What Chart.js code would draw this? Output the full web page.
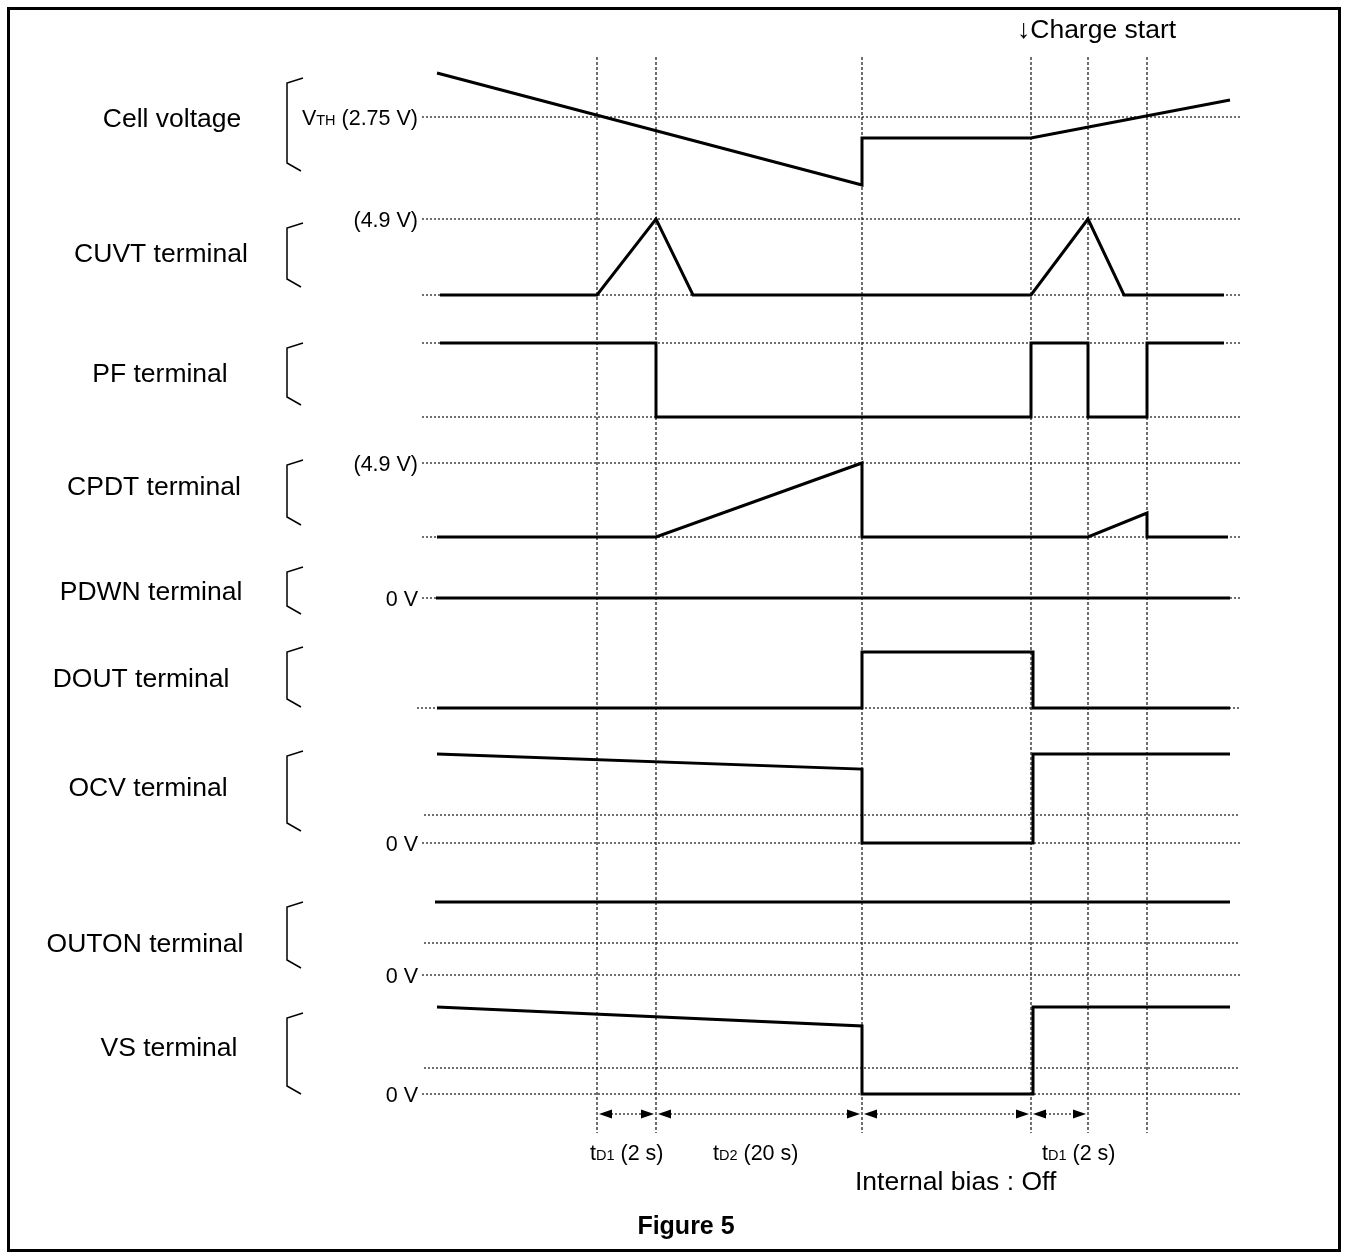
<!DOCTYPE html>
<html><head><meta charset="utf-8">
<script src="https://cdn.jsdelivr.net/npm/chart.js@4.4.0/dist/chart.umd.min.js"></script>
<style>html,body{margin:0;padding:0;background:#fff}canvas{display:block}</style>
</head><body>
<canvas id="c" width="1348" height="1259"></canvas>
<script>
// ---- DATA (time in diagram units, 0 = start of waveforms; levels in volts / logic units) ----
const eventTimes = [160, 219, 425, 594, 651, 710];
const cellT  = [0, 425, 425, 594, 793];
const cellV  = [3.19, 2.07, 2.54, 2.54, 2.92];
const cuvtT  = [3, 160, 219, 256, 594, 651, 687, 787];
const cuvtV  = [0, 0, 4.9, 0, 0, 4.9, 0, 0];
const pfT    = [3, 219, 219, 594, 594, 651, 651, 710, 710, 787];
const pfV    = [1, 1, 0, 0, 1, 1, 0, 0, 1, 1];
const cpdtT  = [0, 219, 425, 425, 651, 710, 710, 791];
const cpdtV  = [0, 0, 4.9, 0, 0, 1.59, 0, 0];
const pdwnT  = [-1, 793];
const pdwnV  = [0, 0];
const doutT  = [0, 425, 425, 596, 596, 793];
const doutV  = [0, 0, 1, 1, 0, 0];
const ocvT   = [0, 425, 425, 596, 596, 793];
const ocvV   = [3.18, 2.64, 0, 0, 3.18, 3.18];
const outonT = [-2, 793];
const outonV = [2.28, 2.28];
const vsT    = [0, 425, 425, 596, 596, 793];
const vsV    = [3.35, 2.62, 0, 0, 3.35, 3.35];
const rowLabels = ['Cell voltage','CUVT terminal','PF terminal','CPDT terminal','PDWN terminal','DOUT terminal','OCV terminal','OUTON terminal','VS terminal'];
const intervals = [[160, 219], [219, 425], [425, 594], [594, 651]];
const intervalLabels = [['t','D1',' (2 s)'], ['t','D2',' (20 s)'], null, ['t','D1',' (2 s)']];

// ---- LAYOUT (positions/sizes) ----
const FONT = '"Liberation Sans", Arial, sans-serif';
const rows = [
  {t: cellT,  v: cellV,  y0: 117, v0: 2.75, k: 100,   refs: [[2.75,-15]], vlabels: [[2.75,'VTH']], lab: [172,117], br: [78,171]},
  {t: cuvtT,  v: cuvtV,  y0: 295, v0: 0, k: 76/4.9,   refs: [[4.9,-15],[0,-15]], vlabels: [[4.9,'(4.9 V)']], lab: [161,252], br: [223,287]},
  {t: pfT,    v: pfV,    y0: 417, v0: 0, k: 74,       refs: [[1,-15],[0,-15]], vlabels: [], lab: [160,372], br: [343,405]},
  {t: cpdtT,  v: cpdtV,  y0: 537, v0: 0, k: 74/4.9,   refs: [[4.9,-15],[0,-15]], vlabels: [[4.9,'(4.9 V)']], lab: [154,485], br: [460,525]},
  {t: pdwnT,  v: pdwnV,  y0: 598, v0: 0, k: 30,       refs: [[0,-15]], vlabels: [[0,'0 V']], lab: [151,590], br: [567,614]},
  {t: doutT,  v: doutV,  y0: 708, v0: 0, k: 56,       refs: [[0,-20]], vlabels: [], lab: [141,677], br: [647,707]},
  {t: ocvT,   v: ocvV,   y0: 843, v0: 0, k: 28,       refs: [[1,-13],[0,-15]], vlabels: [[0,'0 V']], lab: [148,786], br: [751,831]},
  {t: outonT, v: outonV, y0: 975, v0: 0, k: 32,       refs: [[1,-13],[0,-15]], vlabels: [[0,'0 V']], lab: [145,942], br: [902,968]},
  {t: vsT,    v: vsV,    y0: 1094, v0: 0, k: 26,      refs: [[1,-13],[0,-15]], vlabels: [[0,'0 V']], lab: [169,1046], br: [1013,1094]}
];
const REF_END = 803, VL_TOP = 57, VL_BOT = 1133, ARROW_Y = 1114;
const LABEL_SIZE = 26.5, SMALL_SIZE = 21.5, SUB_SIZE = 14.5;
const DOT = '#222';
const toY = (r, v) => r.y0 - (v - r.v0) * r.k;

const datasets = [];
rows.forEach((r, i) => {
  datasets.push({label: rowLabels[i], data: r.t.map((t, j) => ({x: t, y: toY(r, r.v[j])})),
    borderColor: '#000', borderWidth: 3, pointRadius: 0, tension: 0, borderJoinStyle: 'miter', borderCapStyle: 'butt', order: 0, fill: false});
  r.refs.forEach(([lv, from]) => {
    datasets.push({label: 'ref', data: [{x: from, y: toY(r, lv)}, {x: REF_END, y: toY(r, lv)}],
      borderColor: DOT, borderWidth: 1.3, borderDash: [2, 2], pointRadius: 0, order: 2});
  });
});
eventTimes.forEach(t => {
  datasets.push({label: 'evt', data: [{x: t, y: VL_TOP}, {x: t, y: VL_BOT}],
    borderColor: DOT, borderWidth: 1.3, borderDash: [3, 2], pointRadius: 0, order: 2});
});
intervals.forEach(([a, b]) => {
  datasets.push({label: 'int', data: [{x: a + 14, y: ARROW_Y}, {x: b - 14, y: ARROW_Y}],
    borderColor: DOT, borderWidth: 1.3, borderDash: [2, 2], pointRadius: 0, order: 2});
});

function richText(ctx, parts, x, yMid, align) {
  let w = 0;
  parts.forEach(p => { ctx.font = (p[2] ? 'bold ' : '') + p[1] + 'px ' + FONT; w += ctx.measureText(p[0]).width; });
  let cx = align === 'right' ? x - w : align === 'center' ? x - w / 2 : x;
  const base = yMid + parts[0][1] * 0.36;
  ctx.textBaseline = 'alphabetic'; ctx.textAlign = 'left'; ctx.fillStyle = '#000';
  parts.forEach(p => { ctx.font = (p[2] ? 'bold ' : '') + p[1] + 'px ' + FONT; ctx.fillText(p[0], cx, base); cx += ctx.measureText(p[0]).width; });
}

const deco = {
  id: 'deco',
  beforeDraw(chart) { const c = chart.ctx; c.save(); c.fillStyle = '#fff'; c.fillRect(0, 0, chart.width, chart.height); c.restore(); },
  afterDraw(chart) {
    const ctx = chart.ctx, xs = chart.scales.x, ys = chart.scales.y;
    ctx.save();
    ctx.strokeStyle = '#000'; ctx.lineWidth = 3; ctx.strokeRect(8.5, 8.5, 1331, 1242);
    rows.forEach((r, i) => {
      richText(ctx, [[rowLabels[i], LABEL_SIZE]], r.lab[0], ys.getPixelForValue(r.lab[1]), 'center');
      const t = ys.getPixelForValue(r.br[0]), b = ys.getPixelForValue(r.br[1]);
      ctx.strokeStyle = '#000'; ctx.lineWidth = 1.5; ctx.beginPath();
      ctx.moveTo(303, t); ctx.lineTo(287, t + 5); ctx.lineTo(287, b - 8); ctx.lineTo(301, b); ctx.stroke();
      r.vlabels.forEach(([lv, txt]) => {
        const y = ys.getPixelForValue(toY(r, lv));
        if (txt === 'VTH') richText(ctx, [['V', SMALL_SIZE], ['TH', SUB_SIZE], [' (2.75 V)', SMALL_SIZE]], 418, y, 'right');
        else richText(ctx, [[txt, SMALL_SIZE]], 418, y, 'right');
      });
    });
    const ay = ys.getPixelForValue(ARROW_Y);
    ctx.fillStyle = '#000';
    intervals.forEach(([a, b]) => {
      const pa = xs.getPixelForValue(a) + 2, pb = xs.getPixelForValue(b) - 2;
      ctx.beginPath(); ctx.moveTo(pa, ay); ctx.lineTo(pa + 13, ay - 4.5); ctx.lineTo(pa + 13, ay + 4.5); ctx.closePath(); ctx.fill();
      ctx.beginPath(); ctx.moveTo(pb, ay); ctx.lineTo(pb - 13, ay - 4.5); ctx.lineTo(pb - 13, ay + 4.5); ctx.closePath(); ctx.fill();
    });
    const lx = [590, 713, 0, 1042];
    intervalLabels.forEach((l, i) => {
      if (!l) return;
      richText(ctx, [[l[0], SMALL_SIZE], [l[1], SUB_SIZE], [l[2], SMALL_SIZE]], lx[i], ys.getPixelForValue(1152), 'left');
    });
    richText(ctx, [['Internal bias : Off', LABEL_SIZE]], 855, ys.getPixelForValue(1180), 'left');
    richText(ctx, [['\u2193Charge start', LABEL_SIZE]], 1017, ys.getPixelForValue(28), 'left');
    richText(ctx, [['Figure 5', 25, true]], 686, ys.getPixelForValue(1225), 'center');
    ctx.restore();
  }
};

new Chart(document.getElementById('c'), {
  type: 'line',
  data: {datasets},
  options: {
    responsive: false, animation: false, devicePixelRatio: 1,
    layout: {padding: 0},
    plugins: {legend: {display: false}, tooltip: {enabled: false}, title: {display: false}},
    scales: {
      x: {type: 'linear', min: -437, max: 911, display: false},
      y: {type: 'linear', min: 0, max: 1259, reverse: true, display: false}
    }
  },
  plugins: [deco]
});
</script>
</body></html>
